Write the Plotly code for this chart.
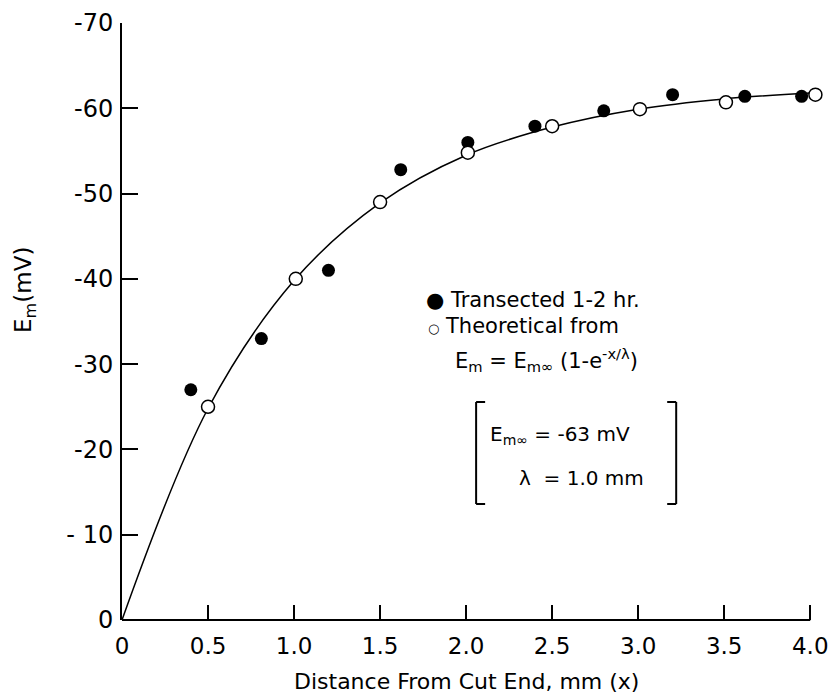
import plotly.graph_objects as go

# Data
transected_x = [0.40, 0.81, 1.20, 1.62, 2.01, 2.40, 2.80, 3.20, 3.62, 3.95]
transected_y = [-27.0, -33.0, -41.0, -52.8, -56.0, -57.9, -59.7, -61.6, -61.4, -61.4]

theoretical_x = [0.50, 1.01, 1.50, 2.01, 2.50, 3.01, 3.51, 4.03]
theoretical_y = [-25.0, -40.0, -49.0, -54.8, -57.9, -59.9, -60.7, -61.6]

curve_x = [0.0, 0.5, 1.0, 1.5, 2.0, 2.5, 3.0, 3.5, 4.0]
curve_y = [0.0, -24.8, -39.8, -48.9, -54.5, -57.8, -59.9, -61.1, -61.8]

x_tickvals = [0, 0.5, 1.0, 1.5, 2.0, 2.5, 3.0, 3.5, 4.0]
x_ticktext = ["0", "0.5", "1.0", "1.5", "2.0", "2.5", "3.0", "3.5", "4.0"]
y_tickvals = [0, -10, -20, -30, -40, -50, -60, -70]
y_ticktext = ["0", "- 10", "-20", "-30", "-40", "-50", "-60", "-70"]

FONT = "DejaVu Sans"
X_MAX = 4.08  # small room on the right so the last marker is drawn

fig = go.Figure()
fig.add_trace(go.Scatter(x=curve_x, y=curve_y, mode="lines",
                         line=dict(color="black", width=1.5, shape="spline", smoothing=1.0),
                         showlegend=False, hoverinfo="skip"))
fig.add_trace(go.Scatter(x=transected_x, y=transected_y, mode="markers",
                         marker=dict(color="black", size=13, line=dict(width=0)),
                         cliponaxis=False, showlegend=False))
fig.add_trace(go.Scatter(x=theoretical_x, y=theoretical_y, mode="markers",
                         marker=dict(color="white", size=13, line=dict(color="black", width=1.5)),
                         cliponaxis=False, showlegend=False))

# plot area in pixels: x 122..(810 at 4.0), y 23..620
L, X4, T, B = 122, 810, 23, 620
R = L + (X4 - L) * X_MAX / 4.0
W, H = 829, 696

def px(x):
    return (x - L) / (R - L)

def py(y):
    return (B - y) / (B - T)

fig.update_layout(
    width=W, height=H,
    margin=dict(l=L, r=W - R, t=T, b=H - B),
    paper_bgcolor="white", plot_bgcolor="white",
    font=dict(family=FONT, color="black", size=21),
    showlegend=False,
)
fig.update_xaxes(range=[0, X_MAX], tickvals=x_tickvals, ticktext=x_ticktext, automargin=False,
                 ticks="inside", ticklen=15, tickwidth=2, tickcolor="black",
                 showline=False, showgrid=False, zeroline=False,
                 tickfont=dict(size=23, family=FONT), ticklabelstandoff=10)
fig.update_yaxes(range=[0, -70], tickvals=y_tickvals, ticktext=y_ticktext, automargin=False,
                 ticks="inside", ticklen=16, tickwidth=2, tickcolor="black",
                 showline=True, linecolor="black", linewidth=2, showgrid=False, zeroline=False,
                 tickfont=dict(size=24, family=FONT), ticklabelstandoff=2)

# x axis line from 0 to 4.0 only
fig.add_shape(type="line", xref="x", yref="paper", x0=0, x1=4.0, y0=0, y1=0,
              line=dict(color="black", width=2))

ann = [
    dict(text="Distance From Cut End, mm (x)", x=px(466), y=py(681), xanchor="center", yanchor="middle",
         font=dict(size=22)),
    dict(text="E<sub>m</sub>(mV)", x=px(25), y=py(290), xanchor="center", yanchor="middle",
         textangle=-90, font=dict(size=23)),
    dict(text="● Transected 1-2 hr.", x=px(424), y=py(300), xanchor="left", yanchor="middle"),
    dict(text="<span style='font-size:13px'>○</span> Theoretical from", x=px(426), y=py(326), xanchor="left", yanchor="middle"),
    dict(text="E<sub>m</sub> = E<sub>m∞</sub> (1-e<sup>-x/λ</sup>)", x=px(453), y=py(360), xanchor="left", yanchor="middle"),
    dict(text="E<sub>m∞</sub> = -63 mV", x=px(488), y=py(435), xanchor="left", yanchor="middle", font=dict(size=20)),
    dict(text="λ  = 1.0 mm", x=px(517), y=py(478), xanchor="left", yanchor="middle", font=dict(size=20)),
]
for a in ann:
    a.setdefault("font", dict(size=21))
    a.update(xref="paper", yref="paper", showarrow=False)
    fig.add_annotation(**a)

# brackets
shapes = []
bl, br, btop, bbot, serif = 476, 676, 402, 504, 9
for x0, x1 in [(bl, bl + serif), (br, br - serif)]:
    shapes.append(dict(type="line", xref="paper", yref="paper", x0=px(x0), x1=px(x0), y0=py(btop), y1=py(bbot)))
    shapes.append(dict(type="line", xref="paper", yref="paper", x0=px(x0), x1=px(x1), y0=py(btop), y1=py(btop)))
    shapes.append(dict(type="line", xref="paper", yref="paper", x0=px(x0), x1=px(x1), y0=py(bbot), y1=py(bbot)))
for s in shapes:
    s["line"] = dict(color="black", width=2)
    fig.add_shape(**s)

fig.write_html("out.html")
